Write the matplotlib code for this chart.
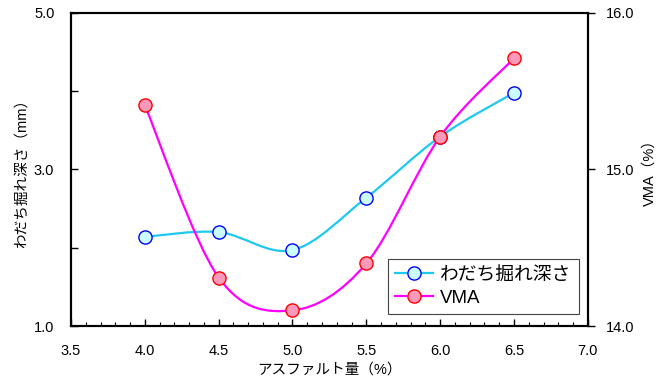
import numpy as np
import matplotlib
matplotlib.use("Agg")
import matplotlib.pyplot as plt
from matplotlib.path import Path
from matplotlib.patches import PathPatch
from matplotlib.lines import Line2D

plt.rcParams['font.family'] = ['Liberation Sans', 'Noto Sans CJK JP', 'DejaVu Sans']

# data
asphalt = [4.0, 4.5, 5.0, 5.5, 6.0, 6.5]
rut_depth = [2.14, 2.20, 1.97, 2.64, 3.42, 3.98]
vma = [15.41, 14.31, 14.10, 14.40, 15.21, 15.71]

xlabel = "アスファルト量（%）"
ylabel_left = "わだち掘れ深さ（mm）"
ylabel_right = "VMA（%）"
name_rut = "わだち掘れ深さ"
name_vma = "VMA"


def smooth_path(ax, xs, ys):
    # excel style smoothed line (catmull-rom as bezier), done in pixel space
    pts = ax.transData.transform(np.column_stack([xs, ys]))
    n = len(pts)
    verts = [pts[0]]
    codes = [Path.MOVETO]
    for i in range(n - 1):
        p0 = pts[max(i - 1, 0)]
        p1 = pts[i]
        p2 = pts[i + 1]
        p3 = pts[min(i + 2, n - 1)]
        c1 = p1 + (p2 - p0) / 6.0
        c2 = p2 - (p3 - p1) / 6.0
        verts += [c1, c2, p2]
        codes += [Path.CURVE4] * 3
    verts = ax.transData.inverted().transform(np.array(verts))
    return Path(verts, codes)


fig = plt.figure(figsize=(6.66, 3.8), dpi=100)
ax = fig.add_axes([0.1066, 0.142, 0.776, 0.824])
ax2 = ax.twinx()

ax.set_xlim(3.5, 7.0)
ax.set_ylim(1.0, 5.0)
ax2.set_ylim(14.0, 16.0)

blue_line = "#1EC8F0"
mag_line = "#FF00FF"

fig.canvas.draw()
p1 = smooth_path(ax, asphalt, rut_depth)
ax.add_patch(PathPatch(p1, facecolor="none", edgecolor=blue_line, lw=1.6, zorder=2))
ax.plot(asphalt, rut_depth, ls="none", marker="o", ms=9.5, mfc="#CCFFFF",
        mec="#0000FF", mew=1.0, zorder=3)

p2 = smooth_path(ax2, asphalt, vma)
ax2.add_patch(PathPatch(p2, facecolor="none", edgecolor=mag_line, lw=1.6, zorder=2))
ax2.plot(asphalt, vma, ls="none", marker="o", ms=9.5, mfc="#FF99BB",
         mec="#FF0000", mew=1.0, zorder=3)

ax.set_xticks(np.arange(3.5, 7.01, 0.5))
ax.set_xticks(np.arange(3.5, 7.01, 0.1), minor=True)
ax.set_xticklabels(["%.1f" % v for v in np.arange(3.5, 7.01, 0.5)])
ax.set_yticks([1.0, 3.0, 5.0])
ax.set_yticklabels(["1.0", "3.0", "5.0"])
ax.set_yticks([2.0, 4.0], minor=True)
ax2.set_yticks([14.0, 15.0, 16.0])
ax2.set_yticklabels(["14.0", "15.0", "16.0"])

ax.tick_params(axis="x", which="major", direction="in", length=5, width=1,
               labelsize=10.5, pad=13)
ax.tick_params(axis="x", which="minor", direction="in", length=3, width=0.8)
ax.tick_params(axis="y", which="both", direction="in", length=5, width=1,
               labelsize=10.5, pad=12)
ax2.tick_params(axis="y", which="both", direction="out", length=5, width=1,
                labelsize=10.5, pad=8)

for a in (ax, ax2):
    for s in a.spines.values():
        s.set_linewidth(1.5)
        s.set_color("black")

ax.set_xlabel(xlabel, fontsize=10.5, labelpad=3)
ax.set_ylabel(ylabel_left, fontsize=10.5, labelpad=4)
ax2.set_ylabel(ylabel_right, fontsize=10.5, labelpad=6)

handles = [
    Line2D([], [], color=blue_line, lw=1.6, marker="o", ms=9.5,
           mfc="#CCFFFF", mec="#0000FF", mew=1.0),
    Line2D([], [], color=mag_line, lw=1.6, marker="o", ms=9.5,
           mfc="#FF99BB", mec="#FF0000", mew=1.0),
]
leg = ax2.legend(handles, [name_rut, name_vma], loc="lower right",
                 bbox_to_anchor=(0.983, 0.038), fontsize=13.5, frameon=True,
                 fancybox=False, edgecolor="#444444", framealpha=1,
                 handlelength=2.0, handletextpad=0.4, borderpad=0.4,
                 labelspacing=0.3, borderaxespad=0)
leg.get_frame().set_linewidth(0.8)

fig.savefig("out.png", dpi=100)
